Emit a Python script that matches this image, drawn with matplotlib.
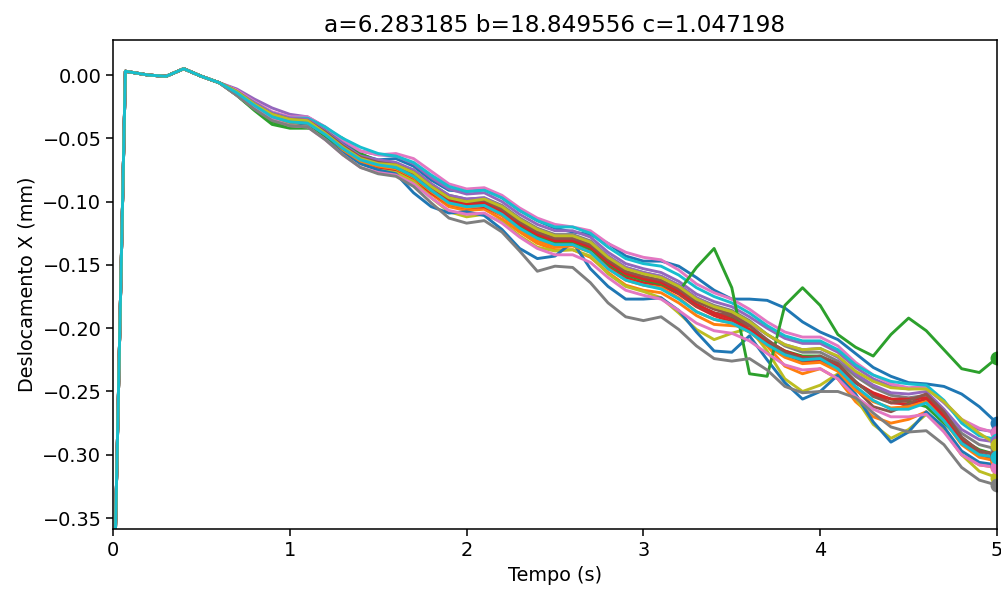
import numpy as np
import matplotlib
matplotlib.use("Agg")
import matplotlib.pyplot as plt

# tempo (s): ponto inicial, salto em 0.07 s e depois passo de 0.1 s
tempo = np.concatenate([[0.0, 0.07], np.arange(2, 51) / 10])

# trecho inicial comum a todas as curvas (t = 0 ... 0.6 s)
inicio = [-0.45, 0.003, 0.000, -0.001, 0.005, -0.001, -0.006]

# deslocamentos de t = 0.7 s a 5.0 s (mm), um por ensaio
azul_1 = [-0.012, -0.022, -0.030, -0.034, -0.034, -0.043, -0.054, -0.063, -0.067, -0.066,
          -0.072, -0.083, -0.091, -0.092, -0.090, -0.097, -0.107, -0.115, -0.121, -0.124,
          -0.126, -0.133, -0.143, -0.147, -0.147, -0.151, -0.160, -0.170, -0.177, -0.177,
          -0.178, -0.184, -0.195, -0.203, -0.209, -0.220, -0.231, -0.238, -0.243, -0.244,
          -0.246, -0.252, -0.262, -0.275]
laranja_1 = [-0.014, -0.024, -0.033, -0.037, -0.039, -0.048, -0.059, -0.069, -0.074, -0.076,
             -0.083, -0.094, -0.104, -0.107, -0.106, -0.114, -0.124, -0.133, -0.138, -0.138,
             -0.144, -0.156, -0.166, -0.170, -0.172, -0.180, -0.190, -0.197, -0.198, -0.199,
             -0.214, -0.230, -0.236, -0.232, -0.240, -0.258, -0.270, -0.275, -0.272, -0.266,
             -0.281, -0.300, -0.308, -0.310]
verde_1 = [-0.016, -0.028, -0.039, -0.042, -0.042, -0.044, -0.050, -0.062, -0.068, -0.071,
           -0.078, -0.089, -0.098, -0.102, -0.101, -0.108, -0.118, -0.126, -0.130, -0.131,
           -0.137, -0.148, -0.157, -0.161, -0.164, -0.172, -0.182, -0.188, -0.192, -0.200,
           -0.210, -0.218, -0.222, -0.222, -0.230, -0.243, -0.252, -0.256, -0.258, -0.262,
           -0.275, -0.288, -0.296, -0.300]
vermelho_1 = [-0.015, -0.026, -0.034, -0.038, -0.040, -0.049, -0.060, -0.069, -0.073, -0.075,
              -0.082, -0.093, -0.102, -0.105, -0.104, -0.111, -0.121, -0.129, -0.134, -0.134,
              -0.139, -0.151, -0.160, -0.164, -0.166, -0.173, -0.183, -0.190, -0.195, -0.203,
              -0.212, -0.220, -0.226, -0.226, -0.231, -0.243, -0.252, -0.259, -0.260, -0.256,
              -0.271, -0.290, -0.301, -0.305]
roxo_1 = [-0.011, -0.019, -0.026, -0.031, -0.033, -0.041, -0.052, -0.060, -0.063, -0.064,
          -0.070, -0.081, -0.090, -0.094, -0.093, -0.100, -0.110, -0.118, -0.123, -0.123,
          -0.128, -0.140, -0.149, -0.153, -0.156, -0.163, -0.173, -0.179, -0.183, -0.191,
          -0.200, -0.208, -0.212, -0.212, -0.219, -0.231, -0.240, -0.246, -0.248, -0.247,
          -0.259, -0.273, -0.280, -0.282]
marrom_1 = [-0.015, -0.026, -0.034, -0.038, -0.038, -0.047, -0.058, -0.067, -0.071, -0.073,
            -0.079, -0.090, -0.099, -0.102, -0.101, -0.108, -0.119, -0.127, -0.131, -0.130,
            -0.136, -0.149, -0.158, -0.161, -0.163, -0.172, -0.182, -0.188, -0.190, -0.199,
            -0.211, -0.221, -0.226, -0.223, -0.230, -0.248, -0.262, -0.266, -0.260, -0.252,
            -0.266, -0.288, -0.299, -0.303]
rosa_1 = [-0.012, -0.021, -0.029, -0.033, -0.033, -0.041, -0.051, -0.060, -0.063, -0.062,
          -0.066, -0.076, -0.086, -0.090, -0.089, -0.095, -0.105, -0.113, -0.118, -0.120,
          -0.123, -0.133, -0.140, -0.144, -0.146, -0.154, -0.165, -0.172, -0.177, -0.185,
          -0.195, -0.203, -0.207, -0.207, -0.214, -0.227, -0.237, -0.244, -0.247, -0.246,
          -0.258, -0.272, -0.279, -0.283]
cinza_1 = [-0.015, -0.025, -0.033, -0.037, -0.037, -0.045, -0.056, -0.065, -0.069, -0.070,
           -0.075, -0.086, -0.095, -0.098, -0.097, -0.103, -0.113, -0.121, -0.126, -0.126,
           -0.131, -0.143, -0.152, -0.156, -0.159, -0.166, -0.176, -0.182, -0.186, -0.194,
           -0.205, -0.214, -0.219, -0.219, -0.226, -0.238, -0.247, -0.253, -0.255, -0.253,
           -0.267, -0.283, -0.292, -0.2955]
oliva_1 = [-0.014, -0.025, -0.034, -0.038, -0.039, -0.048, -0.060, -0.070, -0.075, -0.077,
           -0.084, -0.097, -0.108, -0.112, -0.110, -0.116, -0.127, -0.136, -0.139, -0.138,
           -0.143, -0.157, -0.167, -0.171, -0.176, -0.188, -0.201, -0.209, -0.204, -0.200,
           -0.218, -0.240, -0.250, -0.245, -0.236, -0.255, -0.276, -0.287, -0.280, -0.268,
           -0.280, -0.300, -0.313, -0.318]
ciano_1 = [-0.013, -0.022, -0.030, -0.034, -0.034, -0.041, -0.050, -0.057, -0.062, -0.064,
           -0.069, -0.079, -0.088, -0.092, -0.091, -0.097, -0.107, -0.115, -0.120, -0.120,
           -0.125, -0.136, -0.145, -0.149, -0.151, -0.158, -0.168, -0.175, -0.180, -0.188,
           -0.198, -0.206, -0.210, -0.210, -0.217, -0.229, -0.237, -0.242, -0.244, -0.245,
           -0.257, -0.275, -0.285, -0.288]
azul_2 = [-0.015, -0.025, -0.033, -0.037, -0.039, -0.049, -0.061, -0.070, -0.075, -0.078,
          -0.093, -0.104, -0.109, -0.108, -0.111, -0.122, -0.137, -0.145, -0.143, -0.132,
          -0.153, -0.167, -0.177, -0.177, -0.176, -0.186, -0.203, -0.218, -0.219, -0.206,
          -0.225, -0.243, -0.256, -0.250, -0.237, -0.252, -0.274, -0.290, -0.282, -0.266,
          -0.278, -0.297, -0.306, -0.308]
laranja_2 = [-0.013, -0.024, -0.033, -0.037, -0.038, -0.047, -0.059, -0.068, -0.072, -0.074,
             -0.081, -0.092, -0.102, -0.105, -0.103, -0.111, -0.122, -0.131, -0.136, -0.135,
             -0.140, -0.153, -0.162, -0.166, -0.168, -0.176, -0.187, -0.193, -0.196, -0.203,
             -0.214, -0.223, -0.228, -0.227, -0.234, -0.249, -0.258, -0.263, -0.262, -0.258,
             -0.273, -0.292, -0.302, -0.305]
verde_2 = [-0.016, -0.027, -0.037, -0.041, -0.041, -0.048, -0.058, -0.066, -0.070, -0.073,
           -0.080, -0.091, -0.100, -0.103, -0.102, -0.109, -0.119, -0.127, -0.132, -0.132,
           -0.137, -0.149, -0.158, -0.162, -0.165, -0.171, -0.152, -0.137, -0.168, -0.236,
           -0.238, -0.182, -0.168, -0.182, -0.205, -0.215, -0.222, -0.205, -0.192, -0.202,
           -0.217, -0.232, -0.235, -0.2235]
vermelho_2 = [-0.014, -0.024, -0.032, -0.036, -0.037, -0.046, -0.057, -0.066, -0.070, -0.072,
              -0.079, -0.090, -0.099, -0.102, -0.101, -0.108, -0.118, -0.126, -0.131, -0.131,
              -0.136, -0.148, -0.157, -0.161, -0.164, -0.171, -0.181, -0.188, -0.193, -0.201,
              -0.210, -0.218, -0.223, -0.223, -0.230, -0.243, -0.251, -0.256, -0.256, -0.255,
              -0.269, -0.287, -0.297, -0.300]
roxo_2 = [-0.013, -0.022, -0.030, -0.034, -0.035, -0.044, -0.055, -0.064, -0.067, -0.069,
          -0.075, -0.086, -0.095, -0.098, -0.097, -0.104, -0.114, -0.122, -0.127, -0.127,
          -0.132, -0.143, -0.152, -0.156, -0.159, -0.166, -0.176, -0.183, -0.188, -0.196,
          -0.205, -0.213, -0.217, -0.216, -0.223, -0.236, -0.245, -0.251, -0.252, -0.250,
          -0.264, -0.280, -0.288, -0.290]
marrom_2 = [-0.013, -0.023, -0.031, -0.035, -0.036, -0.045, -0.056, -0.065, -0.069, -0.071,
            -0.077, -0.088, -0.097, -0.100, -0.099, -0.106, -0.116, -0.124, -0.129, -0.129,
            -0.134, -0.146, -0.155, -0.159, -0.162, -0.169, -0.179, -0.185, -0.189, -0.198,
            -0.209, -0.219, -0.224, -0.222, -0.228, -0.242, -0.254, -0.259, -0.257, -0.252,
            -0.266, -0.286, -0.297, -0.300]
rosa_2 = [-0.016, -0.026, -0.035, -0.040, -0.041, -0.051, -0.063, -0.073, -0.077, -0.079,
          -0.086, -0.097, -0.107, -0.110, -0.109, -0.117, -0.128, -0.137, -0.142, -0.142,
          -0.148, -0.160, -0.170, -0.174, -0.177, -0.186, -0.196, -0.202, -0.204, -0.210,
          -0.220, -0.229, -0.233, -0.232, -0.240, -0.254, -0.264, -0.270, -0.270, -0.268,
          -0.282, -0.300, -0.308, -0.310]
cinza_2 = [-0.016, -0.027, -0.036, -0.040, -0.041, -0.051, -0.063, -0.073, -0.078, -0.080,
           -0.088, -0.101, -0.113, -0.117, -0.115, -0.124, -0.139, -0.155, -0.151, -0.152,
           -0.164, -0.180, -0.191, -0.194, -0.191, -0.201, -0.214, -0.224, -0.226, -0.224,
           -0.233, -0.246, -0.251, -0.250, -0.250, -0.255, -0.267, -0.278, -0.282, -0.281,
           -0.292, -0.310, -0.320, -0.324]
oliva_2 = [-0.013, -0.023, -0.031, -0.035, -0.036, -0.046, -0.057, -0.066, -0.070, -0.071,
           -0.077, -0.088, -0.097, -0.100, -0.098, -0.104, -0.114, -0.122, -0.127, -0.127,
           -0.132, -0.144, -0.153, -0.157, -0.160, -0.167, -0.177, -0.183, -0.187, -0.195,
           -0.205, -0.213, -0.217, -0.216, -0.222, -0.234, -0.242, -0.247, -0.248, -0.248,
           -0.258, -0.272, -0.283, -0.292]
ciano_2 = [-0.014, -0.024, -0.033, -0.037, -0.038, -0.047, -0.058, -0.067, -0.071, -0.073,
           -0.080, -0.091, -0.101, -0.104, -0.103, -0.110, -0.121, -0.129, -0.134, -0.134,
           -0.140, -0.153, -0.162, -0.166, -0.169, -0.177, -0.187, -0.193, -0.196, -0.203,
           -0.213, -0.221, -0.225, -0.224, -0.232, -0.246, -0.257, -0.264, -0.264, -0.259,
           -0.273, -0.291, -0.300, -0.302]

ensaios = [azul_1, laranja_1, verde_1, vermelho_1, roxo_1, marrom_1, rosa_1, cinza_1,
           oliva_1, ciano_1, azul_2, laranja_2, verde_2, vermelho_2, roxo_2, marrom_2,
           rosa_2, cinza_2, oliva_2, ciano_2]

a, b, c = 6.283185, 18.849556, 1.047198

s = 1.39  # escala da figura original
plt.rcParams["font.size"] = 10 * s
plt.rcParams["axes.linewidth"] = 0.8 * s
plt.rcParams["xtick.major.size"] = 3.5 * s
plt.rcParams["ytick.major.size"] = 3.5 * s
plt.rcParams["xtick.major.width"] = 0.8 * s
plt.rcParams["ytick.major.width"] = 0.8 * s

fig = plt.figure(figsize=(10.01, 5.89), dpi=100)
ax = fig.add_axes([0.1129, 0.1013, 0.8831, 0.8308])

cores = plt.rcParams["axes.prop_cycle"].by_key()["color"]
curvas = [np.array(inicio + e) for e in ensaios]
for i, y in enumerate(curvas):
    ax.plot(tempo, y, color=cores[i % 10], lw=1.5 * s)
for i, y in enumerate(curvas):
    ax.plot(tempo[-1], y[-1], "o", color=cores[i % 10], ms=6.5 * s)

ax.set_xlim(0, 5)
ax.set_ylim(-0.3589, 0.0277)
ax.set_yticks(np.arange(-0.35, 0.001, 0.05))
ax.set_xlabel("Tempo (s)")
ax.set_ylabel("Deslocamento X (mm)")
ax.set_title("a=%f b=%f c=%f" % (a, b, c), fontsize=12 * s)

fig.savefig("out.png", dpi=100)
